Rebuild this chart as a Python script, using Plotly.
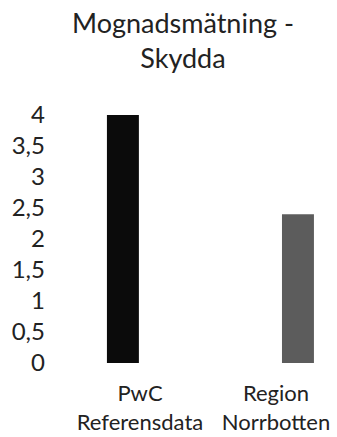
import plotly.graph_objects as go

categories = ["PwC<br>Referensdata", "Region<br>Norrbotten"]
values = [4.0, 2.4]
tick_vals = [0, 0.5, 1, 1.5, 2, 2.5, 3, 3.5, 4]
tick_text = ["0", "0,5", "1", "1,5", "2", "2,5", "3", "3,5", "4"]
title_text = "Mognadsmätning -<br>Skydda"

FONT = "Lato"
fig = go.Figure()
fig.add_trace(go.Bar(
    x=categories, y=values,
    width=0.235,
    offset=[-0.243, 0.044],
    marker=dict(color=["#0b0b0b", "#5c5c5c"], line=dict(width=0)),
))

fig.add_annotation(
    text=title_text, xref="paper", yref="paper",
    x=(183 - 60) / 267, y=1 + (115 - 4) / 248,
    xanchor="center", yanchor="top", showarrow=False,
    font=dict(size=27, family=FONT, color="#222222"),
)

fig.update_layout(
    width=337, height=437,
    margin=dict(l=60, r=10, t=115, b=74),
    paper_bgcolor="white", plot_bgcolor="white",
    showlegend=False,
    font=dict(family=FONT, color="#222222"),
)
fig.update_xaxes(
    type="category", range=[-0.588, 1.375], automargin=False,
    showgrid=False, showline=False, zeroline=False, ticks="",
    tickfont=dict(size=22, family=FONT, color="#222222"),
    ticklabelstandoff=15,
)
fig.update_yaxes(
    range=[0, 4], tickmode="array", tickvals=tick_vals, ticktext=tick_text,
    automargin=False,
    showgrid=False, showline=False, zeroline=False, ticks="",
    tickfont=dict(size=24, family=FONT, color="#222222"),
    ticklabelstandoff=14,
)
fig.write_html("out.html")
